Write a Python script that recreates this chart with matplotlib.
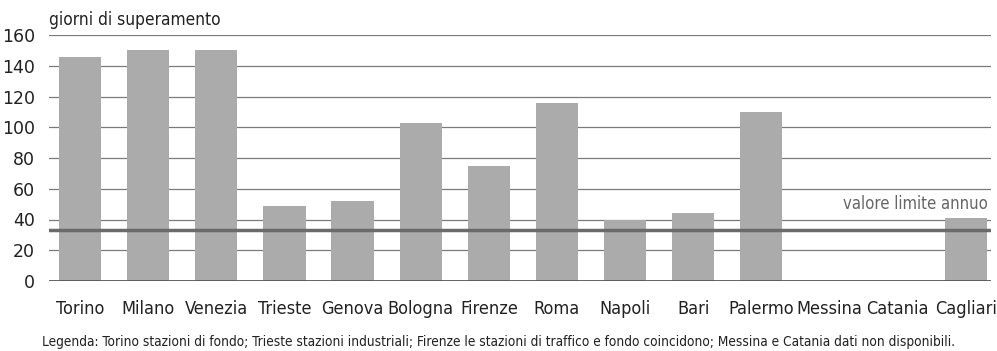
import matplotlib
matplotlib.use("Agg")
import matplotlib.pyplot as plt

citta = ["Torino", "Milano", "Venezia", "Trieste", "Genova", "Bologna", "Firenze",
         "Roma", "Napoli", "Bari", "Palermo", "Messina", "Catania", "Cagliari"]
giorni = [146, 150, 150, 49, 52, 103, 75, 116, 40, 44, 110, 0, 0, 41]
limite = 33
yticks = [0, 20, 40, 60, 80, 100, 120, 140, 160]
legenda = ("Legenda: Torino stazioni di fondo; Trieste stazioni industriali; "
           "Firenze le stazioni di traffico e fondo coincidono; "
           "Messina e Catania dati non disponibili.")

plt.rcParams["font.family"] = ["DejaVu Sans"]
plt.rcParams["font.stretch"] = "condensed"

fig = plt.figure(figsize=(9.97, 3.51), dpi=100)
ax = fig.add_axes([49 / 997, 70 / 351, 942 / 997, 246 / 351])

x = range(len(citta))
ax.bar(x, giorni, width=0.62, color="#ababab", zorder=2)
ax.axhline(limite, color="#6a6a6a", linewidth=2.5, zorder=3)
for v in yticks[1:]:
    ax.axhline(v, color="#7a7a7a", linewidth=0.9, zorder=1)
ax.axhline(0, color="#555555", linewidth=2, zorder=4)

ax.set_xlim(-0.455, 13.37)
ax.set_ylim(0, 160)
ax.set_yticks(yticks)
ax.set_yticklabels([str(v) for v in yticks], fontsize=12.5, fontstretch="normal",
                   color="#222222")
ax.set_xticks(list(x))
ax.set_xticklabels(citta, fontsize=13, color="#222222")
ax.tick_params(axis="both", length=0)
ax.tick_params(axis="y", pad=10)
ax.tick_params(axis="x", pad=14)
for s in ax.spines.values():
    s.set_visible(False)

ax.text(0.0, 1.062, "giorni di superamento", transform=ax.transAxes,
        fontsize=12.4, color="#222222", va="center", ha="left")
ax.text(13.33, 50, "valore limite annuo", fontsize=12, color="#666666",
        ha="right", va="center")
fig.text(0.5, 9 / 351, legenda, fontsize=9.85, color="#222222", ha="center", va="center")

fig.savefig("out.png", dpi=100)
